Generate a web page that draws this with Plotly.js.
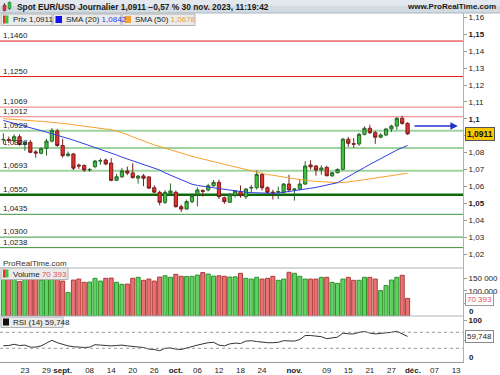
<!DOCTYPE html>
<html><head><meta charset="utf-8">
<script src="https://cdn.plot.ly/plotly-3.0.1.min.js"></script>
<style>html,body{margin:0;padding:0;background:#fff}#chart{width:500px;height:375px}</style>
</head><body><div id="chart"></div>
<script>
// ---------------- DATA ----------------
const dates = [
 '2023-08-17','2023-08-18','2023-08-21','2023-08-22','2023-08-23','2023-08-24','2023-08-25','2023-08-28','2023-08-29','2023-08-30','2023-08-31',
 '2023-09-01','2023-09-04','2023-09-05','2023-09-06','2023-09-07','2023-09-08','2023-09-11','2023-09-12','2023-09-13','2023-09-14','2023-09-15',
 '2023-09-18','2023-09-19','2023-09-20','2023-09-21','2023-09-22','2023-09-25','2023-09-26','2023-09-27','2023-09-28','2023-09-29',
 '2023-10-02','2023-10-03','2023-10-04','2023-10-05','2023-10-06','2023-10-09','2023-10-10','2023-10-11','2023-10-12','2023-10-13',
 '2023-10-16','2023-10-17','2023-10-18','2023-10-19','2023-10-20','2023-10-23','2023-10-24','2023-10-25','2023-10-26','2023-10-27','2023-10-30','2023-10-31',
 '2023-11-01','2023-11-02','2023-11-03','2023-11-06','2023-11-07','2023-11-08','2023-11-09','2023-11-10','2023-11-13','2023-11-14','2023-11-15',
 '2023-11-16','2023-11-17','2023-11-20','2023-11-21','2023-11-22','2023-11-23','2023-11-24','2023-11-27','2023-11-28','2023-11-29','2023-11-30'];
const open  = [1.0876,1.0878,1.0871,1.0894,1.0849,1.0861,1.0804,1.0796,1.0825,1.0868,1.0928,
 1.0842,1.0782,1.0792,1.0726,1.0724,1.0697,1.0717,1.0750,1.0756,1.0738,1.0636,
 1.0657,1.0691,1.0680,1.0649,1.0662,1.0656,1.0592,1.0565,1.0506,1.0560,
 1.0565,1.0480,1.0466,1.0510,1.0553,1.0576,1.0579,1.0604,1.0624,1.0533,
 1.0506,1.0549,1.0569,1.0539,1.0590,1.0592,1.0671,1.0592,1.0566,1.0566,1.0565,1.0614,
 1.0581,1.0585,1.0614,1.0727,1.0721,1.0697,1.0713,1.0663,1.0681,1.0701,1.0879,
 1.0853,1.0851,1.0908,1.0944,1.0918,1.0891,1.0904,1.0940,1.0957,1.1003,1.0973];
const high  = [1.0915,1.0895,1.0908,1.0908,1.0866,1.0875,1.0815,1.0830,1.0882,1.0945,1.0940,
 1.0882,1.0806,1.0797,1.0735,1.0730,1.0709,1.0757,1.0766,1.0764,1.0768,1.0674,
 1.0710,1.0717,1.0737,1.0668,1.0673,1.0660,1.0606,1.0575,1.0578,1.0618,
 1.0576,1.0492,1.0522,1.0553,1.0594,1.0582,1.0616,1.0638,1.0640,1.0540,
 1.0560,1.0578,1.0606,1.0588,1.0609,1.0695,1.0681,1.0600,1.0580,1.0598,1.0620,1.0669,
 1.0590,1.0640,1.0749,1.0755,1.0725,1.0725,1.0722,1.0686,1.0705,1.0888,1.0893,
 1.0886,1.0917,1.0955,1.0965,1.0928,1.0915,1.0945,1.0965,1.1010,1.1018,1.0980];
const low   = [1.0850,1.0857,1.0861,1.0841,1.0810,1.0796,1.0770,1.0790,1.0782,1.0860,1.0834,
 1.0770,1.0776,1.0697,1.0704,1.0686,1.0687,1.0707,1.0728,1.0725,1.0630,1.0631,
 1.0650,1.0667,1.0647,1.0616,1.0602,1.0585,1.0562,1.0488,1.0496,1.0552,
 1.0475,1.0448,1.0464,1.0500,1.0482,1.0540,1.0570,1.0598,1.0526,1.0496,
 1.0504,1.0534,1.0533,1.0525,1.0566,1.0581,1.0576,1.0560,1.0523,1.0525,1.0557,1.0565,
 1.0516,1.0580,1.0610,1.0700,1.0663,1.0669,1.0660,1.0656,1.0677,1.0695,1.0835,
 1.0829,1.0840,1.0902,1.0910,1.0852,1.0885,1.0897,1.0922,1.0935,1.0965,1.0905];
const close = [1.0878,1.0872,1.0894,1.0849,1.0861,1.0802,1.0798,1.0825,1.0868,1.0932,1.0842,
 1.0782,1.0792,1.0708,1.0721,1.0697,1.0700,1.0750,1.0752,1.0733,1.0636,1.0657,
 1.0692,1.0679,1.0652,1.0661,1.0648,1.0590,1.0566,1.0506,1.0565,1.0573,
 1.0480,1.0466,1.0510,1.0545,1.0579,1.0571,1.0604,1.0624,1.0539,1.0510,
 1.0553,1.0573,1.0545,1.0585,1.0594,1.0671,1.0592,1.0565,1.0563,1.0569,1.0614,1.0579,
 1.0584,1.0614,1.0721,1.0716,1.0697,1.0709,1.0663,1.0681,1.0701,1.0879,1.0855,
 1.0850,1.0908,1.0944,1.0918,1.0891,1.0904,1.0940,1.0957,1.1003,1.0973,1.0911];
const volume = [168000,150000,152000,137000,151000,150000,148000,143000,150000,151000,149000,
 139000,94000,143000,147000,134000,135000,150000,139000,150000,151000,134000,
 126000,127000,150000,154000,142000,147000,139000,155000,160000,154000,
 166000,158000,157000,158000,163000,173000,167000,159000,160000,158000,
 155000,156000,170000,150000,147000,154000,147000,150000,158000,142000,147000,174000,
 170000,158000,147000,147000,147000,154000,154000,134000,130000,147000,154000,
 142000,142000,154000,154000,147000,101000,121000,143000,154000,162000,70393];
const sma20 = [1.0990,1.0982,1.0974,1.0966,1.0957,1.0947,1.0938,1.0930,1.0921,1.0912,1.0903,
 1.0895,1.0884,1.0874,1.0863,1.0852,1.0842,1.0832,1.0822,1.0811,1.0799,1.0786,
 1.0773,1.0762,1.0751,1.0740,1.0732,1.0721,1.0710,1.0697,1.0680,1.0666,
 1.0652,1.0638,1.0623,1.0613,1.0606,1.0600,1.0596,1.0592,1.0587,1.0582,
 1.0577,1.0573,1.0569,1.0566,1.0563,1.0561,1.0559,1.0558,1.0559,1.0561,1.0565,1.0570,
 1.0575,1.0580,1.0585,1.0589,1.0594,1.0600,1.0606,1.0613,1.0622,1.0640,1.0657,
 1.0676,1.0695,1.0712,1.0730,1.0748,1.0766,1.0783,1.0800,1.0815,1.0829,1.0842];
const sma50 = [1.1001,1.0998,1.0995,1.0993,1.0991,1.0989,1.0987,1.0985,1.0983,1.0980,1.0977,
 1.0973,1.0969,1.0965,1.0960,1.0955,1.0951,1.0948,1.0944,1.0940,1.0935,1.0928,
 1.0918,1.0906,1.0893,1.0880,1.0869,1.0857,1.0846,1.0836,1.0827,1.0815,
 1.0804,1.0795,1.0786,1.0778,1.0770,1.0763,1.0756,1.0748,1.0739,1.0731,
 1.0723,1.0715,1.0708,1.0699,1.0692,1.0685,1.0677,1.0670,1.0666,1.0662,1.0656,1.0650,
 1.0645,1.0640,1.0636,1.0633,1.0630,1.0627,1.0625,1.0623,1.0622,1.0623,1.0626,
 1.0630,1.0635,1.0640,1.0645,1.0650,1.0655,1.0660,1.0665,1.0670,1.0674,1.0678];
const rsi = [36.5,37,40,37,38,33,33,36,43,50,44,
 40,36,34,33,32,33,39,38,37,36,37,
 38,36,35,34,32,28,27,24,30,31,
 28,27,31,35,38,41,44,45,38,36,
 41,43,42,48,49,47,45,44,44,45,49,48,
 48,52,62,62,61,59,54,56,58,68,66,
 66,70,72,68,66,67,68,70,72.5,67,59.748];
// horizontal support / resistance levels
const levels = [1.1460,1.1250,1.1069,1.1012,1.0929,1.0828,1.0693,1.0550,1.0435,1.0300,1.0238];
// price axis ticks (1,09 is hidden behind the last-price box in the reference)
const priceTicks = [1.02,1.03,1.04,1.05,1.06,1.07,1.08,1.09,1.10,1.11,1.12,1.13,1.14,1.15,1.16];
const priceTickText = ['1,02','1,03','1,04','<b>1,05</b>','1,06','1,07','1,08','','<b>1,1</b>','1,11','1,12','1,13','1,14','<b>1,15</b>','1,16'];
const volTicks = [50000,100000,150000];
const volTickText = ['50 000','100 000','150 000'];
const rsiTicks = [50,100];
const rsiTickText = ['50','<b>100</b>'];
const dateTicks = ['2023-08-23','2023-08-29','2023-09-01','2023-09-08','2023-09-14','2023-09-20','2023-09-26','2023-10-02','2023-10-06','2023-10-12',
 '2023-10-18','2023-10-24','2023-11-01','2023-11-09','2023-11-15','2023-11-21','2023-11-27','2023-12-01','2023-12-07','2023-12-13'];
const dateTickText = ['23','29','<b>sept.</b>','08','14','20','26','<b>oct.</b>','06','12','18','24','<b>nov.</b>','09','15','21','27','<b>déc.</b>','07','13'];
const arrowDates = ['2023-12-01','2023-12-13 08:00'];
const arrowLevel = 1.0957;
const rsiBands = [70,30];

// ---------------- STYLE / LAYOUT ----------------
const FONT = 'Liberation Sans, Arial, sans-serif';
const fmt4 = v => v.toFixed(4).replace('.', ',');
const levelStyle = [
 {c:'#e01818',w:1},{c:'#e01818',w:1},{c:'#f07a7a',w:1},{c:'#f07a7a',w:1},
 {c:'#9fd49f',w:2},{c:'#9fd49f',w:2},{c:'#9fd49f',w:2},
 {c:'#0b6b0b',w:2.5},{c:'#3c963c',w:1},{c:'#3c963c',w:1},{c:'#3c963c',w:1}];
const py = ypx => (362 - ypx) / 349;
const px = xpx => xpx / 500;
const XR = 0.926;
const GREEN = '#3cc43c', RED = '#e53030';
const up = close.map((c,i) => c >= open[i]);

const traces = [
 {type:'scatter', mode:'lines', x:dates, y:sma50, line:{color:'#f7a12f', width:1}, hoverinfo:'skip'},
 {type:'scatter', mode:'lines', x:dates, y:sma20, line:{color:'#2f3fe0', width:1}, hoverinfo:'skip'},
 {type:'candlestick', x:dates, open:open, high:high, low:low, close:close,
  increasing:{line:{color:'#2c662c', width:1}, fillcolor:GREEN},
  decreasing:{line:{color:'#7a1e1e', width:1}, fillcolor:RED},
  whiskerwidth:0, hoverinfo:'skip'},
 {type:'bar', x:dates, y:volume, yaxis:'y2',
  marker:{color: up.map(u => u ? '#5fd25f' : '#e87272'), line:{color: up.map(u => u ? '#2f8f2f' : '#b03a3a'), width:1}},
  hoverinfo:'skip'},
 {type:'scatter', mode:'lines', x:dates, y:rsi, yaxis:'y3', line:{color:'#333', width:1}, hoverinfo:'skip'}
];

const shapes = [];
const annotations = [];
// title bar
shapes.push({type:'rect', xref:'paper', yref:'paper', x0:0, x1:1, y0:py(13), y1:py(0), fillcolor:'#d3dbe2', line:{width:0}, layer:'above'});
shapes.push({type:'rect', xref:'paper', yref:'paper', x0:0, x1:1, y0:py(6), y1:py(0), fillcolor:'#e2e8ed', line:{width:0}, layer:'above'});
shapes.push({type:'line', xref:'paper', yref:'paper', x0:0, x1:1, y0:py(13), y1:py(13), line:{color:'#a9b5be', width:1}, layer:'above'});
// title icon
shapes.push({type:'line', xref:'paper', yref:'paper', x0:px(4.5), x1:px(4.5), y0:py(11.5), y1:py(3), line:{color:'#555', width:1}, layer:'above'});
shapes.push({type:'rect', xref:'paper', yref:'paper', x0:px(3), x1:px(6), y0:py(10.5), y1:py(5), fillcolor:RED, line:{color:'#7a1e1e', width:0.5}, layer:'above'});
shapes.push({type:'line', xref:'paper', yref:'paper', x0:px(9.5), x1:px(9.5), y0:py(10), y1:py(1.5), line:{color:'#555', width:1}, layer:'above'});
shapes.push({type:'rect', xref:'paper', yref:'paper', x0:px(8), x1:px(11), y0:py(8.5), y1:py(2.5), fillcolor:GREEN, line:{color:'#2c662c', width:0.5}, layer:'above'});
annotations.push({xref:'paper', yref:'paper', x:px(15), y:py(6.8), xanchor:'left', yanchor:'middle', showarrow:false,
 text:'<b>Spot EUR/USD Journalier 1,0911 −0,57 % 30 nov. 2023, 11:19:42</b>', font:{family:FONT, size:8.4, color:'#1a1a1a'}});
annotations.push({xref:'paper', yref:'paper', x:px(498), y:py(6.8), xanchor:'right', yanchor:'middle', showarrow:false,
 text:'<b>www.ProRealTime.com</b>', font:{family:FONT, size:8, color:'#1a1a1a'}});

// level lines and labels
levels.forEach((lv, i) => {
 shapes.push({type:'line', xref:'paper', yref:'y', x0:0, x1:XR, y0:lv, y1:lv, line:{color:levelStyle[i].c, width:levelStyle[i].w}, layer:'below'});
 annotations.push({xref:'paper', yref:'y', x:px(2), y:lv, xanchor:'left', yanchor:'bottom', yshift:0, showarrow:false,
  text:fmt4(lv), font:{family:FONT, size:8, color:'#1a1a1a'}, borderpad:0});
});

// panel separators
[py(268), py(316)].forEach(yy => shapes.push({type:'line', xref:'paper', yref:'paper', x0:0, x1:XR, y0:yy, y1:yy, line:{color:'#aab3ba', width:1}}));
// RSI bands
rsiBands.forEach(b => shapes.push({type:'line', xref:'paper', yref:'y3', x0:0, x1:XR, y0:b, y1:b, line:{color:'#9a9a9a', width:1, dash:'3px,3px'}}));

// legend boxes (top)
function box(x0,x1,y0,y1){shapes.push({type:'rect', xref:'paper', yref:'paper', x0:px(x0), x1:px(x1), y0:py(y1), y1:py(y0), fillcolor:'#ebebeb', line:{color:'#b3b3b3', width:1}, layer:'above'});}
function sq(x0,x1,y0,y1,c){shapes.push({type:'rect', xref:'paper', yref:'paper', x0:px(x0), x1:px(x1), y0:py(y1), y1:py(y0), fillcolor:c, line:{width:0}, layer:'above'});}
function txt(x,y,t,size,color){annotations.push({xref:'paper', yref:'paper', x:px(x), y:py(y), xanchor:'left', yanchor:'middle', showarrow:false, text:t, font:{family:FONT, size:size||8, color:color||'#1a1a1a'}});}
box(1,52,14,25.5); sq(3,5.7,15.5,23.5,RED); sq(5.7,8.5,15.5,23.5,GREEN);
txt(10.5,20,'Prix 1,0911');
box(53,121,14,25.5); sq(55.5,62,16,23,'#1010f0');
txt(63.5,20,'SMA (20) <span style="color:#3a3af0">' + fmt4(sma20[sma20.length-1]) + '</span>');
box(122,195,14,25.5); sq(124.5,131,16,23,'#f7a12f');
txt(132.5,20,'SMA (50) <span style="color:#f0a030">' + fmt4(sma50[sma50.length-1]) + '</span>');

// ProRealTime.com watermark
txt(1,263,'ProRealTime.com',8,'#333');

// volume legend
box(1,68,268,279.5); sq(3,5.7,269.5,277.5,RED); sq(5.7,8.5,269.5,277.5,GREEN);
txt(10.5,274,'Volume <span style="color:#e05050">70 393</span>');
// RSI legend
box(1,63,317,327.5); sq(3,9,318.5,325.5,'#111');
txt(10.5,322.3,'RSI (14) ' + rsi[rsi.length-1].toFixed(3).replace('.', ','));

// axis zero labels
annotations.push({xref:'paper', yref:'paper', x:px(467), y:py(311), xanchor:'left', yanchor:'middle', showarrow:false, text:'<b>0</b>', font:{family:FONT, size:8, color:'#1a1a1a'}});
annotations.push({xref:'paper', yref:'paper', x:px(467), y:py(357.5), xanchor:'left', yanchor:'middle', showarrow:false, text:'<b>0</b>', font:{family:FONT, size:8, color:'#1a1a1a'}});

// last-value boxes on the right
annotations.push({xref:'paper', yref:'y', x:px(465), y:close[close.length-1], xanchor:'left', yanchor:'middle', showarrow:false,
 text:'<b>' + fmt4(close[close.length-1]) + '</b>', font:{family:FONT, size:8.5, color:'#111'}, bgcolor:'#f9c900', bordercolor:'#555', borderwidth:1, borderpad:1});
annotations.push({xref:'paper', yref:'y2', x:px(465), y:volume[volume.length-1], xanchor:'left', yanchor:'middle', yshift:-1, showarrow:false,
 text:'70 393', font:{family:FONT, size:8, color:'#e05050'}, bgcolor:'#fff', bordercolor:'#999', borderwidth:1, borderpad:1});
annotations.push({xref:'paper', yref:'y3', x:px(465), y:rsi[rsi.length-1], xanchor:'left', yanchor:'middle', showarrow:false,
 text:rsi[rsi.length-1].toFixed(3).replace('.', ','), font:{family:FONT, size:8, color:'#222'}, bgcolor:'#fff', bordercolor:'#888', borderwidth:1, borderpad:1});

// blue arrow drawing
annotations.push({xref:'x', yref:'y', axref:'x', ayref:'y', x:arrowDates[1], y:arrowLevel, ax:arrowDates[0], ay:arrowLevel,
 showarrow:true, arrowhead:2, arrowsize:1, arrowwidth:1.5, arrowcolor:'#2233cc', text:''});

const axFont = {family:FONT, size:8, color:'#1a1a1a'};
const layout = {
 width:500, height:375, margin:{l:0, r:0, t:13, b:13},
 paper_bgcolor:'#fff', plot_bgcolor:'#fff', showlegend:false, hovermode:false, dragmode:false,
 separators:', ', bargap:0.25, boxgap:0.15,
 xaxis:{type:'date', domain:[0, XR], anchor:'y3', range:['2023-08-16 09:00','2023-12-14 06:45'],
  rangebreaks:[{bounds:['sat','mon']}], rangeslider:{visible:false},
  tickmode:'array', tickvals:dateTicks, ticktext:dateTickText, tickfont:axFont, ticks:'', tickangle:0,
  showline:true, linecolor:'#999', showgrid:false, zeroline:false, fixedrange:true},
 yaxis:{domain:[0.2693, 1], range:[1.01172, 1.1626], side:'right', anchor:'x',
  tickmode:'array', tickvals:priceTicks, ticktext:priceTickText, tickfont:axFont, ticks:'outside', ticklen:3, tickcolor:'#999',
  showline:true, linecolor:'#aab3ba', showgrid:false, zeroline:false, fixedrange:true},
 yaxis2:{domain:[0.1318, 0.2693], range:[0, 191000], side:'right', anchor:'x',
  tickmode:'array', tickvals:volTicks, ticktext:volTickText, tickfont:axFont, ticks:'outside', ticklen:3, tickcolor:'#999',
  showline:true, linecolor:'#aab3ba', showgrid:false, zeroline:false, fixedrange:true},
 yaxis3:{domain:[0, 0.1318], range:[-4.25, 110.75], side:'right', anchor:'x',
  tickmode:'array', tickvals:rsiTicks, ticktext:rsiTickText, tickfont:axFont, ticks:'outside', ticklen:3, tickcolor:'#999',
  showline:true, linecolor:'#aab3ba', showgrid:false, zeroline:false, fixedrange:true},
 shapes:shapes, annotations:annotations
};
Plotly.newPlot('chart', traces, layout, {staticPlot:true, displayModeBar:false});
</script></body></html>
